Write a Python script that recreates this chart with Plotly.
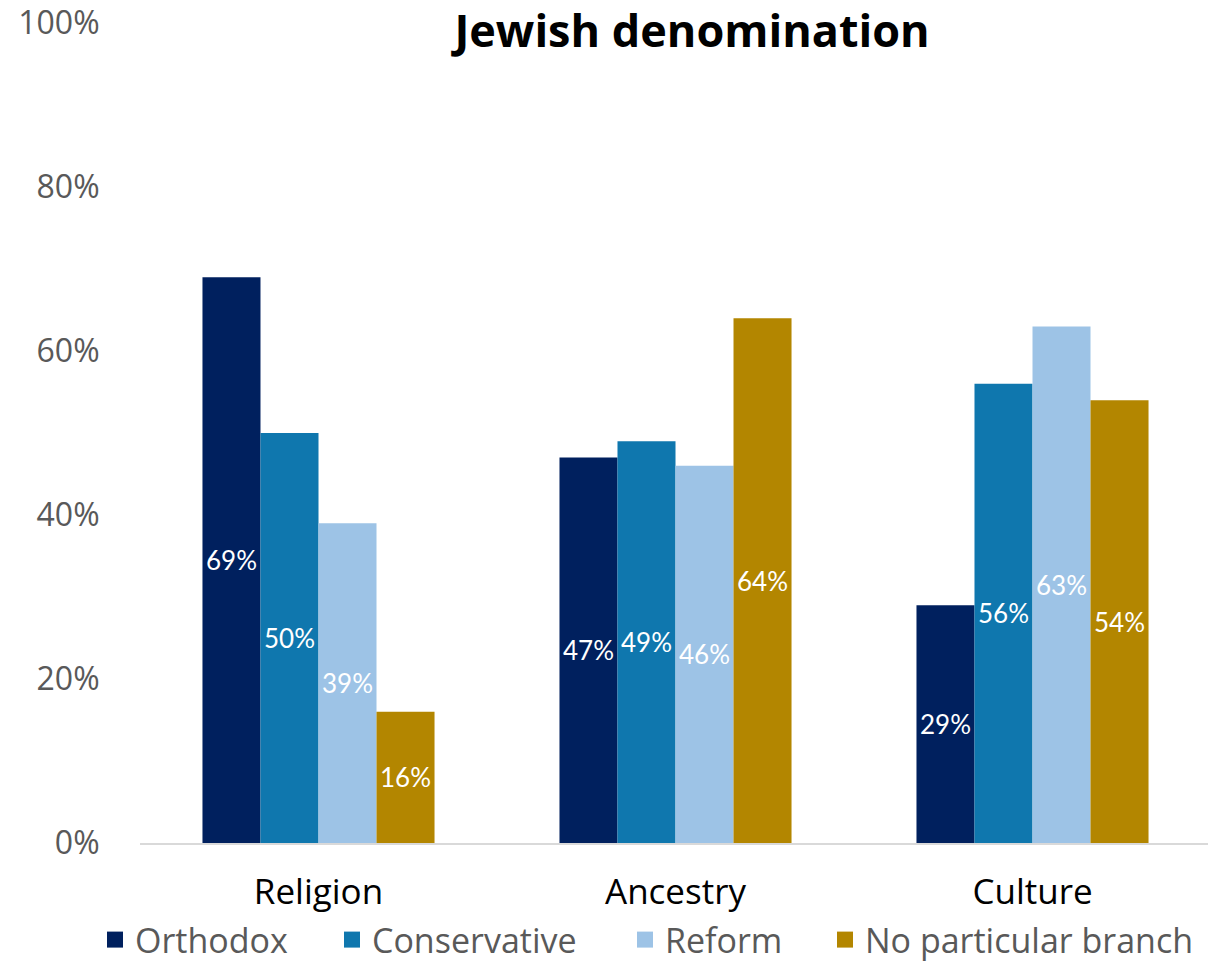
import plotly.graph_objects as go

categories = ["Religion", "Ancestry", "Culture"]
series_names = ["Orthodox", "Conservative", "Reform", "No particular branch"]
orthodox = [69, 47, 29]
conservative = [50, 49, 56]
reform = [39, 46, 63]
no_branch = [16, 64, 54]
y_ticks = [0, 20, 40, 60, 80, 100]
y_tick_labels = ["0%", "20%", "40%", "60%", "80%", "100%"]

colors = ["#00205E", "#0F77AE", "#9DC3E6", "#B38600"]
values = [orthodox, conservative, reform, no_branch]
legend_ids = ["legend", "legend2", "legend3", "legend4"]

# page body has an 8px margin; lay out the figure in its own coordinates
W, H = 1208, 955
legend_x = [87, 324, 617, 817]

fig = go.Figure()
for name, vals, col in zip(series_names, values, colors):
    fig.add_trace(go.Bar(
        x=categories, y=vals, name=name,
        marker=dict(color=col, line=dict(width=0)),
        text=[f"{v}%" for v in vals],
        textposition="inside", insidetextanchor="middle",
        textangle=0,
        textfont=dict(color="white", size=26, family="Lato, Open Sans, sans-serif"),
        showlegend=False,
    ))
# legend entries with larger square markers, each in its own legend
for name, col, lid in zip(series_names, colors, legend_ids):
    fig.add_trace(go.Scatter(
        x=[None], y=[None], mode="markers", name=name,
        marker=dict(symbol="square", size=18, color=col),
        showlegend=True, legend=lid,
    ))

legend_common = dict(
    orientation="h", xref="container", yref="container",
    xanchor="left", y=1 - 932 / H, yanchor="middle",
    font=dict(size=34, color="#595959", family="Open Sans, sans-serif"),
    itemwidth=30, itemsizing="trace", bgcolor="rgba(0,0,0,0)",
)
legend_layout = {lid: dict(x=lx / W, **legend_common) for lid, lx in zip(legend_ids, legend_x)}

fig.update_layout(
    width=W, height=H,
    margin=dict(l=132, r=5, t=15, b=120),
    paper_bgcolor="white", plot_bgcolor="white",
    barmode="group", bargap=0.35, bargroupgap=0,
    uniformtext=dict(minsize=26, mode="show"),
    title=dict(text="<b>Jewish denomination</b>", x=684 / W, xref="container", xanchor="center",
               y=1 - 23 / H, yref="container", yanchor="middle",
               font=dict(size=45, color="black", family="Open Sans, sans-serif")),
    font=dict(family="Open Sans, sans-serif"),
    showlegend=True,
    **legend_layout,
)
fig.update_xaxes(
    automargin=False,
    showline=True, linecolor="#D9D9D9", linewidth=2,
    tickfont=dict(size=35, color="#000000", family="Open Sans, sans-serif"),
    ticks="outside", ticklen=17, tickcolor="rgba(0,0,0,0)",
    showgrid=False,
)
fig.update_yaxes(
    automargin=False,
    range=[0, 100], tickvals=y_ticks, ticktext=y_tick_labels,
    ticklabeloverflow="allow",
    showgrid=False, zeroline=False, showline=False,
    tickfont=dict(size=32, color="#595959", family="Open Sans, sans-serif"),
    ticks="outside", ticklen=33, tickcolor="rgba(0,0,0,0)",
)

fig.write_html("out.html")
